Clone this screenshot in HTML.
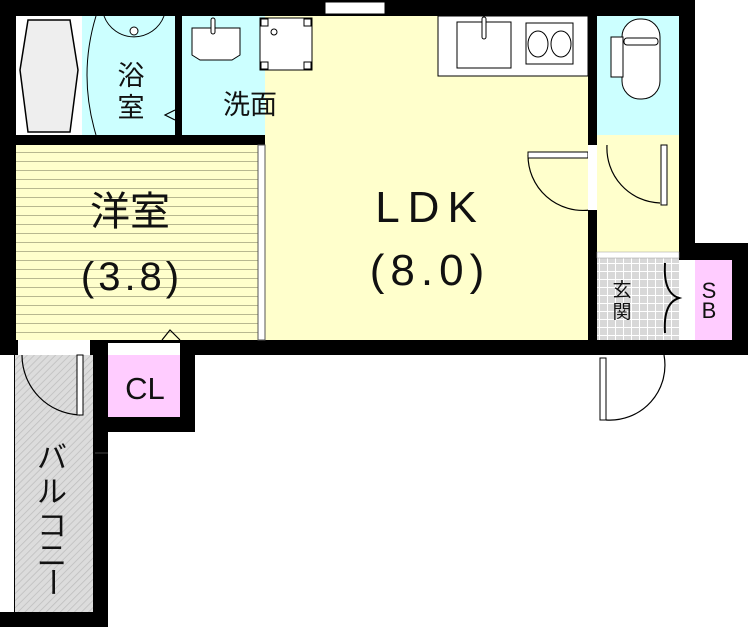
<!DOCTYPE html>
<html><head><meta charset="utf-8"><style>html,body{margin:0;padding:0;background:#fff}svg{display:block}</style></head><body>
<svg width="748" height="627" viewBox="0 0 748 627" xmlns="http://www.w3.org/2000/svg" font-family="'Liberation Sans','Noto Sans CJK JP',sans-serif">
<defs>
<pattern id="ln" width="10" height="9" patternUnits="userSpaceOnUse"><rect width="10" height="9" fill="#ffffcc"/><line x1="0" y1="8.5" x2="10" y2="8.5" stroke="#b8b890" stroke-width="1"/></pattern>
<pattern id="tile" width="8" height="8" patternUnits="userSpaceOnUse"><rect width="8" height="8" fill="#d8d8d8"/><path d="M0 7.5H8M7.5 0V8" stroke="#fff" stroke-width="1"/></pattern>
<pattern id="hat" width="5" height="5" patternUnits="userSpaceOnUse" patternTransform="rotate(45)"><rect width="5" height="5" fill="#dcdcdc"/><line x1="0" y1="0" x2="0" y2="5" stroke="#bdbdbd" stroke-width="1.5"/></pattern>
</defs>
<rect x="0" y="0" width="695" height="355" fill="#000"/>
<rect x="679" y="243" width="69" height="112" fill="#000"/>
<rect x="0" y="340" width="108" height="287" fill="#000"/>
<rect x="95" y="340" width="100" height="92" fill="#000"/>
<rect x="16" y="16" width="66" height="119" fill="#fff"/>
<rect x="82" y="16" width="93" height="119" fill="#ccffff"/>
<rect x="182" y="16" width="136" height="119" fill="#ccffff"/>
<rect x="265" y="16" width="323" height="324" fill="#ffffcc"/>
<rect x="16" y="145" width="242" height="195" fill="url(#ln)"/>
<rect x="258" y="145" width="7" height="195" fill="#fff" stroke="#555" stroke-width="1"/>
<rect x="597" y="16" width="82" height="119" fill="#ccffff"/>
<rect x="597" y="135" width="82" height="117" fill="#ffffcc"/>
<rect x="597" y="252" width="82" height="88" fill="url(#tile)"/>
<rect x="597" y="252" width="82" height="6" fill="#fff" stroke="#999" stroke-width="0.5"/>
<rect x="695" y="260" width="37" height="80" fill="#ffccff"/>
<rect x="679" y="260" width="16" height="80" fill="#fff"/>
<rect x="108" y="355" width="72" height="62" fill="#ffccff"/>
<rect x="108" y="343" width="72" height="12" fill="#fff"/>
<rect x="0" y="355" width="14" height="257" fill="#fff"/>
<rect x="15" y="355" width="78" height="257" fill="url(#hat)"/>
<rect x="18" y="340" width="72" height="15" fill="#fff"/>
<line x1="95" y1="453" x2="108" y2="453" stroke="#444"/>
<rect x="438" y="16" width="150" height="60" fill="#fff" stroke="#000"/>
<rect x="457" y="22" width="54" height="46" fill="none" stroke="#000"/>
<rect x="482" y="17" width="4" height="22" rx="2" fill="#fff" stroke="#000"/>
<rect x="526" y="23" width="47" height="41" fill="none" stroke="#000"/>
<ellipse cx="538" cy="44" rx="10" ry="13" fill="none" stroke="#000"/>
<ellipse cx="561" cy="44" rx="10" ry="13" fill="none" stroke="#000"/>
<rect x="325" y="2" width="60" height="12" fill="#fff" stroke="#000"/>
<rect x="622" y="19" width="38" height="80" rx="18" fill="#fff" stroke="#000"/>
<rect x="611" y="37" width="12" height="40" fill="#fff" stroke="#000"/>
<rect x="624" y="38" width="34" height="7" rx="3" fill="#fff" stroke="#000"/>
<path d="M28 20H70L78 70L70 132H28L20 70Z" fill="#eee" stroke="#000" stroke-width="1.5"/>
<path d="M96 16Q78 75 96 135" fill="none" stroke="#000"/>
<path d="M104 16A32 32 0 0 0 164 16" fill="#ccffff" stroke="#000"/>
<circle cx="134" cy="31" r="4" fill="#fff" stroke="#000"/>
<path d="M192 28H240V55L232 60H200L192 55Z" fill="#fff" stroke="#000"/>
<rect x="211" y="18" width="4" height="16" rx="2" fill="#fff" stroke="#000"/>
<rect x="260" y="18" width="52" height="52" fill="#fff" stroke="#000"/>
<g fill="#fff" stroke="#000"><rect x="261" y="19" width="7" height="7"/><rect x="304" y="19" width="7" height="7"/><rect x="261" y="62" width="7" height="7"/><rect x="304" y="62" width="7" height="7"/></g>
<circle cx="274" cy="32" r="3" fill="#fff" stroke="#000"/>
<g fill="none" stroke="#000" stroke-width="1.2">
<path d="M528 155A55 55 0 0 0 590 210"/>
<path d="M607 145A55 55 0 0 0 660 203"/>
<path d="M606 420A55 55 0 0 0 664 355"/>
<path d="M22 355A60 60 0 0 0 80 415"/>
<path d="M162 340L170 330L180 340"/>
<path d="M175 120L165 115L175 110"/>
</g>
<path d="M665 263Q663 293 679 298Q663 303 665 333" fill="none" stroke="#000" stroke-width="2"/>
<rect x="528" y="152" width="60" height="6" fill="#fff" stroke="#000"/>
<rect x="661" y="145" width="6" height="60" fill="#fff" stroke="#000"/>
<rect x="600" y="358" width="6" height="62" fill="#fff" stroke="#000"/>
<rect x="77" y="355" width="6" height="60" fill="#fff" stroke="#000"/>
<rect x="588" y="145" width="9" height="65" fill="#fff"/>
<g fill="#111">
<text x="130" y="225" font-size="40" text-anchor="middle">洋室</text>
<text x="132" y="290" font-size="40" text-anchor="middle" letter-spacing="4">(3.8)</text>
<text x="430" y="222" font-size="44" text-anchor="middle" letter-spacing="8">LDK</text>
<text x="430" y="285" font-size="44" text-anchor="middle" letter-spacing="6">(8.0)</text>
<text x="131" y="85" font-size="27" text-anchor="middle">浴</text>
<text x="131" y="117" font-size="27" text-anchor="middle">室</text>
<text x="250" y="114" font-size="27" text-anchor="middle">洗面</text>
<text x="622" y="296" font-size="19" text-anchor="middle">玄</text>
<text x="622" y="318" font-size="19" text-anchor="middle">関</text>
<text x="709" y="298" font-size="22" text-anchor="middle">S</text>
<text x="709" y="318" font-size="22" text-anchor="middle">B</text>
<text x="145" y="399" font-size="31" text-anchor="middle">CL</text>
<text x="52" y="468" font-size="30" text-anchor="middle">バ</text>
<text x="52" y="502" font-size="30" text-anchor="middle">ル</text>
<text x="52" y="536" font-size="30" text-anchor="middle">コ</text>
<text x="52" y="566" font-size="30" text-anchor="middle">ニ</text>
<text x="52" y="592" font-size="30" text-anchor="middle" transform="rotate(90 52 582)">ー</text>
</g>
</svg>
</body></html>
